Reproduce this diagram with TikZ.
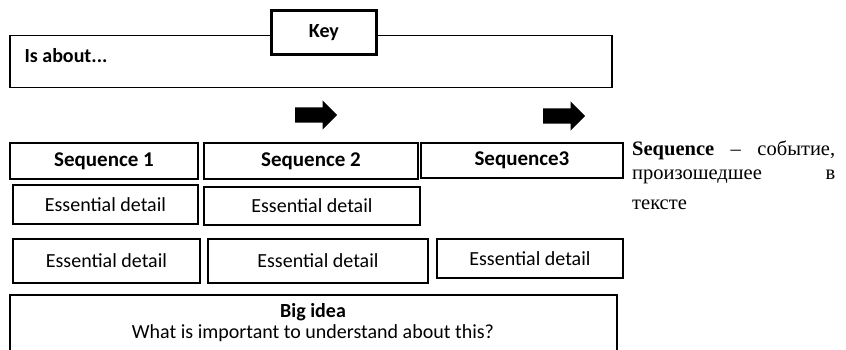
\documentclass[tikz,border=0pt]{standalone}
\usepackage{fontspec}
\setmainfont{Liberation Serif}
\newfontfamily\calibrifont{Carlito}
\usetikzlibrary{shapes.arrows}
\tikzset{every node/.style={font=\calibrifont\fontsize{20}{22}\selectfont},
  cell/.style={draw, line width=1.9pt, anchor=north west, inner sep=0pt},
  headcell/.style={cell, font=\calibrifont\bfseries\fontsize{21}{22}\selectfont},
  deftext/.style={anchor=base west, inner sep=0pt, font=\rmfamily\fontsize{20.5}{19}\selectfont},
  blockarrow/.style={single arrow, fill=black, inner sep=0pt, text height=15pt, text depth=0pt,
    minimum height=42pt, single arrow head extend=7pt, single arrow head indent=0pt}}

\begin{document}
\begin{tikzpicture}[x=1pt,y=-1pt]
\clip (0,0) rectangle (846,350);
% title strip
\node[cell, line width=1.5pt, minimum width=602pt, minimum height=52pt] (IsAbout) at (9,35) {};
\node[anchor=west, font=\calibrifont\bfseries\fontsize{20}{22}\selectfont] (IsAboutTxt) at (21,56) {Is about...};
\node[cell, line width=2.9pt, fill=white, minimum width=105pt, minimum height=44pt,
  font=\calibrifont\bfseries\fontsize{20}{22}\selectfont] (Key) at (270,9) {Key};
% arrows
\node[blockarrow, anchor=west] (ArrowA) at (295,115) {};
\node[blockarrow, anchor=west] (ArrowB) at (543,116) {};
% sequences
\node[headcell, minimum width=188pt, minimum height=36pt] (SeqA) at (9,142) {Sequence 1};
\node[headcell, minimum width=214pt, minimum height=36pt] (SeqB) at (203,142) {Sequence 2};
\node[headcell, minimum width=202pt, minimum height=35pt] (SeqC) at (420,142) {Sequence3};
% details
\node[cell, minimum width=185pt, minimum height=39pt] (DetAA) at (12,184) {Essential detail};
\node[cell, minimum width=216pt, minimum height=38pt] (DetBA) at (203,186) {Essential detail};
\node[cell, minimum width=187pt, minimum height=44pt] (DetAB) at (12,238) {Essential detail};
\node[cell, minimum width=220pt, minimum height=44pt] (DetBB) at (207,238) {Essential detail};
\node[cell, minimum width=186pt, minimum height=39pt] (DetCB) at (436,238) {Essential detail};
% big idea
\node[cell, minimum width=607pt, minimum height=70pt] (BigIdea) at (9,294) {};
\node[align=center, font=\calibrifont\fontsize{20}{21}\selectfont] (BigIdeaTxt) at (313,323)
  {\textbf{Big idea}\\What is important to understand about this?};
% definition
\node[deftext] (SeqDefA) at (632,156) {\makebox[203pt][s]{\textbf{Sequence} -- событие,}};
\node[deftext] (SeqDefB) at (632,179) {\makebox[203pt][s]{произошедшее\hfill в}};
\node[deftext] (SeqDefC) at (632,209) {тексте};
\end{tikzpicture}
\end{document}
